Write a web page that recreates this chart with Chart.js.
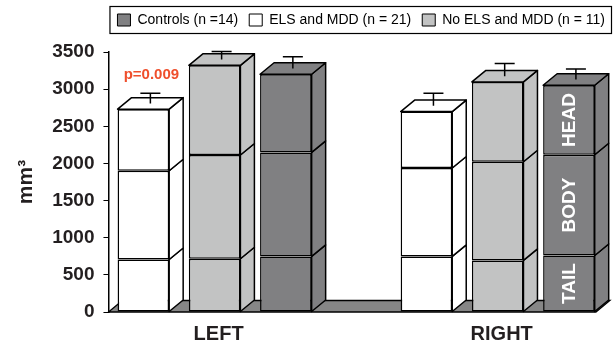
<!DOCTYPE html>
<html lang="en">

<head>
    <meta charset="UTF-8">
    <title>Hippocampal volume</title>
    <script src="https://cdn.jsdelivr.net/npm/chart.js"></script>
    <style>
        body { margin: 0; background: #fff; }
    </style>
</head>

<body>
    <canvas id="volChart" width="616" height="346"></canvas>

    <script>
        const categories = ['LEFT', 'RIGHT'];
        const segments = ['TAIL', 'BODY', 'HEAD'];
        const groupNames = ['ELS and MDD (n = 21)', 'No ELS and MDD (n = 11)', 'Controls (n =14)'];
        const legendOrder = [2, 0, 1];

        // volumes per segment (tail, body, head), each [left, right]
        const elsMdd = [[707, 748], [1195, 1191], [829, 759]];
        const noElsMdd = [[717, 694], [1396, 1329], [1208, 1074]];
        const controls = [[748, 761], [1400, 1356], [1052, 936]];

        // error on the whole volume, [left, right]
        const elsMddErr = [135, 170];
        const noElsMddErr = [110, 172];
        const controlsErr = [160, 141];

        const pLabel = 'p=0.009';

        const groupValues = [elsMdd, noElsMdd, controls];
        const groupErrors = [elsMddErr, noElsMddErr, controlsErr];
        const groupColors = ['#ffffff', '#c2c3c3', '#808082'];

        // depth of the 3d boxes
        const DX = 14;
        const DY = -11.5;
        const FLOOR_END = 1.347;
        const FONT = '"Liberation Sans", Arial, sans-serif';
        Chart.defaults.font.family = FONT;

        const datasets = [];
        groupValues.forEach((vals, g) => {
            vals.forEach((row, s) => {
                datasets.push({
                    label: groupNames[g] + ' ' + segments[s],
                    data: row.map((v, i) => ({ x: i, y: v })),
                    stack: 'g' + g,
                    group: g,
                    seg: s,
                    backgroundColor: groupColors[g],
                    borderColor: '#000',
                    borderWidth: 1.5,
                    borderSkipped: false,
                    categoryPercentage: 0.755,
                    barPercentage: 0.724
                });
            });
        });

        function poly(ctx, pts, fill) {
            ctx.beginPath();
            ctx.moveTo(pts[0][0], pts[0][1]);
            for (let i = 1; i < pts.length; i++) ctx.lineTo(pts[i][0], pts[i][1]);
            ctx.closePath();
            ctx.fillStyle = fill;
            ctx.fill();
            ctx.stroke();
        }

        // floor under the columns
        const floorPlugin = {
            id: 'floor',
            beforeDatasetsDraw(chart) {
                const { ctx, chartArea } = chart;
                const left = chartArea.left;
                const bottom = chartArea.bottom;
                const right = chart.scales.x.getPixelForValue(FLOOR_END);
                ctx.save();
                ctx.strokeStyle = '#000';
                ctx.lineWidth = 1.3;
                poly(ctx, [[left, bottom], [right, bottom], [right + DX, bottom + DY], [left + DX, bottom + DY]], '#868686');
                ctx.restore();
            }
        };

        // side and top faces, error bars, labels
        const boxPlugin = {
            id: 'boxes',
            afterDatasetsDraw(chart) {
                const { ctx } = chart;
                const yScale = chart.scales.y;
                ctx.save();
                ctx.strokeStyle = '#000';
                ctx.lineWidth = 1.5;
                ctx.lineJoin = 'round';
                chart.data.datasets.forEach((ds, di) => {
                    chart.getDatasetMeta(di).data.forEach((bar) => {
                        const l = bar.x - bar.width / 2;
                        const r = bar.x + bar.width / 2;
                        const t = bar.y;
                        const b = bar.base;
                        poly(ctx, [[r, t], [r + DX, t + DY], [r + DX, b + DY], [r, b]], ds.backgroundColor);
                        if (ds.seg === segments.length - 1) {
                            poly(ctx, [[l, t], [l + DX, t + DY], [r + DX, t + DY], [r, t]], ds.backgroundColor);
                        }
                    });
                });

                // error bars on top of each column
                groupValues.forEach((vals, g) => {
                    const headIdx = g * segments.length + segments.length - 1;
                    chart.getDatasetMeta(headIdx).data.forEach((bar, i) => {
                        const total = vals.reduce((sum, row) => sum + row[i], 0);
                        const cx = bar.x + DX / 2;
                        const yTop = bar.y + DY / 2;
                        const yErr = yScale.getPixelForValue(total + groupErrors[g][i]) + DY / 2;
                        ctx.beginPath();
                        ctx.moveTo(cx, yTop);
                        ctx.lineTo(cx, yErr);
                        ctx.moveTo(cx - 10, yErr);
                        ctx.lineTo(cx + 10, yErr);
                        ctx.stroke();
                        if (g === 0 && i === 0) {
                            ctx.fillStyle = '#ef4f2c';
                            ctx.font = 'bold 15px ' + FONT;
                            ctx.textAlign = 'center';
                            ctx.textBaseline = 'alphabetic';
                            ctx.fillText(pLabel, cx + 1, yErr - 14);
                        }
                    });
                });

                // segment names on the right control column
                ctx.fillStyle = '#ffffff';
                ctx.font = 'bold 19px ' + FONT;
                ctx.textAlign = 'center';
                ctx.textBaseline = 'middle';
                segments.forEach((name, s) => {
                    const bar = chart.getDatasetMeta(2 * segments.length + s).data[1];
                    ctx.save();
                    ctx.translate(bar.x, (bar.y + bar.base) / 2);
                    ctx.rotate(-Math.PI / 2);
                    ctx.fillText(name, 0, 1);
                    ctx.restore();
                });
                ctx.restore();
            }
        };

        // frame around the legend row
        const legendFrame = {
            id: 'legendFrame',
            afterDraw(chart) {
                const boxes = chart.legend.legendHitBoxes;
                if (!boxes || !boxes.length) return;
                const first = boxes[0];
                const last = boxes[boxes.length - 1];
                const ctx = chart.ctx;
                ctx.save();
                ctx.strokeStyle = '#000';
                ctx.lineWidth = 1.2;
                ctx.strokeRect(first.left - 7.5, first.top - 6.5, last.left + last.width - first.left + 14, first.height + 13);
                ctx.restore();
            }
        };

        new Chart(document.getElementById('volChart'), {
            type: 'bar',
            data: { datasets },
            plugins: [floorPlugin, boxPlugin, legendFrame],
            options: {
                responsive: false,
                animation: false,
                layout: { padding: { left: 14, right: 0, top: 2, bottom: 0 } },
                scales: {
                    x: {
                        type: 'linear',
                        offset: false,
                        min: -0.375,
                        max: 1.418,
                        stacked: true,
                        grid: { display: false, drawTicks: false },
                        border: { display: false },
                        afterBuildTicks: (scale) => {
                            scale.ticks = categories.map((_, i) => ({ value: i }));
                        },
                        afterFit: (scale) => {
                            scale.height = 34;
                        },
                        ticks: {
                            callback: (v) => categories[v],
                            labelOffset: 4,
                            padding: 10,
                            maxRotation: 0,
                            color: '#231f20',
                            font: { size: 20, weight: 'bold' }
                        }
                    },
                    y: {
                        stacked: true,
                        min: 0,
                        max: 3500,
                        grid: { drawOnChartArea: false, color: '#000', tickLength: 5 },
                        border: { color: '#000', width: 1.5 },
                        ticks: {
                            stepSize: 500,
                            padding: 9,
                            color: '#231f20',
                            font: { size: 19, weight: 'bold' },
                            callback: (v) => String(v)
                        },
                        title: {
                            display: true,
                            text: 'mm³',
                            color: '#231f20',
                            font: { size: 21, weight: 'bold' },
                            padding: { top: 0, bottom: 4 }
                        }
                    }
                },
                plugins: {
                    // empty spacer between legend and plot
                    subtitle: {
                        display: true,
                        text: '',
                        weight: 500,
                        font: { size: 10 },
                        padding: { top: 0, bottom: 3 }
                    },
                    legend: {
                        position: 'top',
                        align: 'end',
                        onClick: null,
                        labels: {
                            boxWidth: 13,
                            boxHeight: 12,
                            padding: 11,
                            color: '#000',
                            font: { size: 14 },
                            generateLabels: () => legendOrder.map(g => ({
                                text: groupNames[g],
                                fillStyle: groupColors[g],
                                strokeStyle: '#000',
                                lineWidth: 1,
                                hidden: false,
                                datasetIndex: g * segments.length
                            }))
                        }
                    },
                    tooltip: { enabled: false }
                }
            }
        });
    </script>
</body>

</html>
